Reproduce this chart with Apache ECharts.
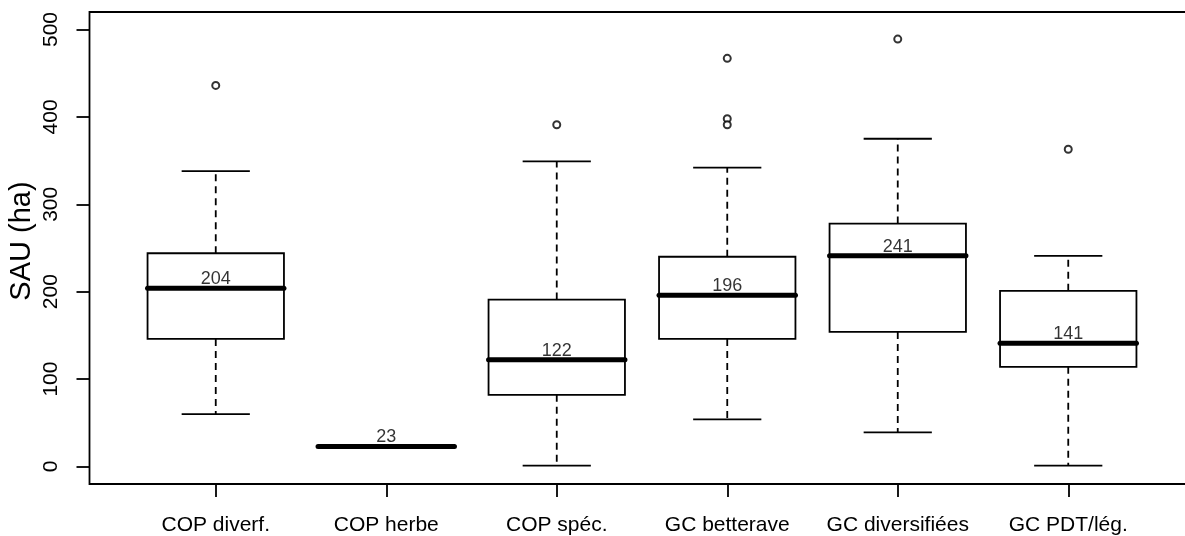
<!DOCTYPE html>
<html lang="fr">
<head>
    <meta charset="UTF-8">
    <title>SAU par type</title>
    <script src="https://cdn.jsdelivr.net/npm/echarts@6/dist/echarts.min.js"></script>
    <style>
        body { margin: 0; background: #fff; }
    </style>
</head>
<body>
    <div id="myChart" style="width: 1185px;height: 536px;"></div>
    <script>
        // groupes et statistiques
        var categories = ['COP diverf.', 'COP herbe', 'COP spéc.', 'GC betterave', 'GC diversifiées', 'GC PDT/lég.'];
        var lowWhisker  = [60, 23, 1, 54, 39, 1];
        var q1          = [146, 23, 82, 146, 154, 114];
        var median      = [204, 23, 122, 196, 241, 141];
        var q3          = [244, 23, 191, 240, 278, 201];
        var highWhisker = [338, 23, 349, 342, 375, 241];
        var outlierCat  = [0, 2, 3, 3, 3, 4, 5];
        var outlierVal  = [436, 391, 467, 398, 391, 489, 363];
        var yTicks = [0, 100, 200, 300, 400, 500];

        var font = "'Liberation Sans', Arial, Helvetica, sans-serif";

        var boxData = categories.map(function (c, i) {
            return [i, lowWhisker[i], q1[i], median[i], q3[i], highWhisker[i]];
        });
        var outData = outlierCat.map(function (c, i) { return [c, outlierVal[i]]; });
        var medData = median.map(function (m, i) { return [i, m]; });

        function renderBox(params, api) {
            var i = api.value(0);
            var lo = api.coord([i, api.value(1)]);
            var a = api.coord([i, api.value(2)]);
            var md = api.coord([i, api.value(3)]);
            var b = api.coord([i, api.value(4)]);
            var hi = api.coord([i, api.value(5)]);
            var bw = api.size([1, 0])[0] * 0.8;
            var cw = bw * 0.5;
            var cx = md[0];
            var solid = { stroke: '#000', lineWidth: 1.8, fill: null };
            var dashed = { stroke: '#000', lineWidth: 1.8, lineDash: [7, 5], fill: null };
            var kids = [];
            if (hi[1] < b[1]) {
                kids.push({ type: 'line', shape: { x1: cx, y1: b[1], x2: cx, y2: hi[1] }, style: dashed });
                kids.push({ type: 'line', shape: { x1: cx - cw / 2, y1: hi[1], x2: cx + cw / 2, y2: hi[1] }, style: solid });
            }
            if (lo[1] > a[1]) {
                kids.push({ type: 'line', shape: { x1: cx, y1: a[1], x2: cx, y2: lo[1] }, style: dashed });
                kids.push({ type: 'line', shape: { x1: cx - cw / 2, y1: lo[1], x2: cx + cw / 2, y2: lo[1] }, style: solid });
            }
            if (a[1] - b[1] > 0.5) {
                kids.push({ type: 'rect', shape: { x: cx - bw / 2, y: b[1], width: bw, height: a[1] - b[1] },
                    style: { stroke: '#000', lineWidth: 1.8, fill: '#fff' } });
            }
            kids.push({ type: 'line', shape: { x1: cx - bw / 2, y1: md[1], x2: cx + bw / 2, y2: md[1] },
                style: { stroke: '#000', lineWidth: 5, lineCap: 'round' } });
            return { type: 'group', children: kids };
        }

        var myChart = echarts.init(document.getElementById('myChart'));
        var option = {
            backgroundColor: '#fff',
            animation: false,
            textStyle: { fontFamily: font, color: '#000' },
            grid: [
                // zone des données (0..500, centres des catégories)
                { left: 130.5, top: 29.5, width: 1023, height: 437, outerBoundsMode: 'none', containLabel: false },
                // cadre du graphique (coupé à droite comme l'original)
                { left: 89.5, top: 12, width: 1104, height: 472, show: true, outerBoundsMode: 'none', containLabel: false,
                  borderColor: '#000', borderWidth: 1.8, backgroundColor: 'transparent' },
                // même largeur que la zone des données, bas collé au cadre : porte l'axe des x
                { left: 130.5, top: 29.5, width: 1023, height: 454.5, outerBoundsMode: 'none', containLabel: false }
            ],
            xAxis: [
                { type: 'category', gridIndex: 0, data: categories, show: false },
                { type: 'value', gridIndex: 1, show: false },
                {
                    type: 'category', gridIndex: 2, data: categories,
                    axisLine: { show: false },
                    axisTick: { show: true, alignWithLabel: true, length: 13, lineStyle: { color: '#000', width: 1.8 } },
                    axisLabel: { color: '#000', fontSize: 21, fontFamily: font, margin: 31, interval: 0 },
                    splitLine: { show: false }
                }
            ],
            yAxis: [
                {
                    type: 'value', gridIndex: 0, min: yTicks[0], max: yTicks[yTicks.length - 1], interval: 100,
                    offset: 41,
                    name: 'SAU (ha)', nameLocation: 'middle', nameRotate: 90, nameGap: 53,
                    nameTextStyle: { fontSize: 29, fontFamily: font, color: '#000', padding: [0, 0, 0, 14] },
                    nameMoveOverlap: false,
                    axisLine: { show: false },
                    axisTick: { show: true, length: 13, lineStyle: { color: '#000', width: 1.8 } },
                    axisLabel: { color: '#000', fontSize: 21, fontFamily: font, rotate: 90, margin: 28 },
                    splitLine: { show: false }
                },
                { type: 'value', gridIndex: 1, show: false },
                { type: 'value', gridIndex: 2, show: false }
            ],
            series: [
                {
                    type: 'custom',
                    renderItem: renderBox,
                    data: boxData,
                    encode: { x: 0, y: [1, 2, 3, 4, 5] },
                    z: 2
                },
                {
                    type: 'scatter',
                    data: outData,
                    symbol: 'circle',
                    symbolSize: 7,
                    itemStyle: { color: '#fff', borderColor: '#000', borderWidth: 2 },
                    z: 3
                },
                {
                    type: 'scatter',
                    data: medData,
                    symbolSize: 0,
                    label: {
                        show: true, position: 'top', distance: 0,
                        fontSize: 18, fontFamily: font, color: '#000',
                        formatter: function (p) { return p.value[1]; }
                    },
                    z: 4
                }
            ]
        };
        myChart.setOption(option);
    </script>
</body>
</html>
